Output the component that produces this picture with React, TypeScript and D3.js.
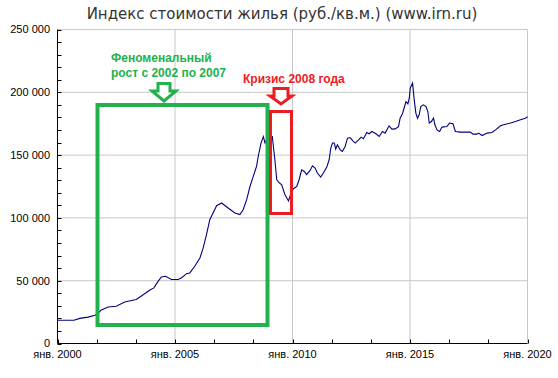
import React from "react";
import * as d3 from "d3";

const TITLE = "Индекс стоимости жилья (руб./кв.м.) (www.irn.ru)";

// decimal years
const dates: number[] = [
  2000.0, 2000.7, 2000.95, 2001.3, 2001.6, 2001.75, 2001.85, 2002.15, 2002.5, 2002.86,
  2003.2, 2003.35, 2003.6, 2003.92, 2004.1, 2004.28, 2004.42, 2004.6, 2004.85, 2005.13,
  2005.27, 2005.49, 2005.63, 2005.84, 2006.06, 2006.2, 2006.34, 2006.48, 2006.62, 2006.77,
  2006.98, 2007.26, 2007.55, 2007.76, 2007.9, 2008.05, 2008.19, 2008.33, 2008.47, 2008.54,
  2008.66, 2008.76, 2008.83, 2008.92, 2009.05, 2009.14, 2009.25, 2009.33, 2009.42, 2009.54,
  2009.68, 2009.83, 2009.96, 2010.03, 2010.18, 2010.28, 2010.39, 2010.5, 2010.6, 2010.75,
  2010.85, 2010.96, 2011.06, 2011.2, 2011.31, 2011.46, 2011.56, 2011.63, 2011.7, 2011.78,
  2011.84, 2011.91, 2012.03, 2012.12, 2012.24, 2012.34, 2012.45, 2012.57, 2012.67, 2012.81,
  2012.92, 2013.02, 2013.16, 2013.26, 2013.38, 2013.55, 2013.69, 2013.83, 2013.94, 2014.11,
  2014.23, 2014.37, 2014.51, 2014.58, 2014.68, 2014.77, 2014.83, 2014.91, 2014.97, 2015.01,
  2015.11, 2015.18, 2015.25, 2015.32, 2015.39, 2015.46, 2015.57, 2015.68, 2015.76, 2015.82,
  2015.91, 2016.0, 2016.06, 2016.15, 2016.26, 2016.36, 2016.57, 2016.68, 2016.83, 2016.93,
  2017.14, 2017.57, 2017.68, 2017.85, 2017.92, 2018.07, 2018.28, 2018.49, 2018.64, 2018.85,
  2019.06, 2019.28, 2019.49, 2019.7, 2019.91, 2020.0,
];

const values: number[] = [
  18500, 18500, 20000, 21000, 22500, 24500, 26500, 29000, 29700, 33000,
  34400, 35000, 38200, 42400, 44300, 49500, 53000, 53500, 51000, 51000,
  52200, 55600, 56200, 61500, 68100, 76100, 86700, 98600, 103900, 109700,
  111900, 107900, 103900, 102600, 106500, 114500, 125000, 133000, 141000, 148900,
  159600, 164800, 159600, 163000, 165000, 164800, 146300, 130400, 128200, 126400,
  118500, 113500, 121000, 123000, 125000, 130400, 138300, 137000, 134400, 137800,
  141500, 139700, 135700, 132500, 135700, 140500, 146300, 155600, 159600, 159600,
  154800, 158200, 154200, 152900, 156900, 163500, 164000, 161400, 159600, 162200,
  164300, 163000, 168000, 167000, 168800, 167000, 164800, 168800, 167500, 173300,
  170700, 170900, 172700, 179400, 182900, 188700, 192600, 190800, 195300, 203300,
  207300, 194000, 183400, 179400, 182100, 188700, 190000, 188700, 184700, 175500,
  176700, 179400, 174100, 170100, 168800, 172300, 172700, 175500, 174900, 168800,
  168300, 168300, 166700, 166700, 167500, 165600, 167500, 168000, 170100, 173300,
  174600, 175500, 176700, 178100, 179400, 180500,
];

const xMajorTicks: number[] = [2000, 2005, 2010, 2015, 2020];
const xTickLabels: string[] = ["янв. 2000", "янв. 2005", "янв. 2010", "янв. 2015", "янв. 2020"];
const yMajorTicks: number[] = [0, 50000, 100000, 150000, 200000, 250000];

// annotations (data coordinates)
const growthLabel: string[] = ["Феноменальный", "рост с 2002 по 2007"];
const growthBox: number[] = [2001.7, 2008.9, 15000, 190000]; // x0, x1, y0, y1
const crisisLabel = "Кризис 2008 года";
const crisisBox: number[] = [2009.05, 2009.95, 104000, 185500];

const W = 558;
const H = 378;

export default function App() {
  const x = d3.scaleLinear().domain([2000, 2020]).range([57.5, 527.5]);
  const y = d3.scaleLinear().domain([0, 250000]).range([343.5, 29.5]);

  const pts = dates.map((d, i) => [d, values[i]] as [number, number]);
  const line = d3
    .line<[number, number]>()
    .x((d) => x(d[0]))
    .y((d) => y(d[1]));

  const yMinor = d3.range(0, 250001, 10000);
  const xMinor = d3.range(0, 12 + 1).map((i) => 2000 + (i * 5) / 3);

  const fmt = (v: number) => d3.format(",")(v).replace(/,/g, " ");

  const green = "#22b14c";
  const red = "#ed1c24";

  const arrow = (cx: number, top: number, headY: number, tip: number, sw: number, hw: number) =>
    `M${cx - sw},${top} L${cx + sw},${top} L${cx + sw},${headY} L${cx + hw},${headY} L${cx},${tip} L${cx - hw},${headY} L${cx - sw},${headY} Z`;

  const gx0 = Math.round(x(growthBox[0])) + 0.5;
  const gx1 = Math.round(x(growthBox[1])) + 0.5;
  const gy0 = Math.round(y(growthBox[3]));
  const gy1 = Math.round(y(growthBox[2]));
  const cx0 = Math.round(x(crisisBox[0])) + 0.5;
  const cx1 = Math.round(x(crisisBox[1])) + 0.5;
  const cy0 = Math.round(y(crisisBox[3])) + 0.5;
  const cy1 = Math.round(y(crisisBox[2])) + 0.5;

  return (
    <svg
      width={W}
      height={H}
      style={{ position: "absolute", left: 0, top: 0, background: "#fff" }}
      fontFamily="'Liberation Sans', Arial, sans-serif"
    >
      <rect x={0} y={0} width={W} height={H} fill="#fff" />
      <text
        x={282}
        y={19}
        textAnchor="middle"
        fontFamily="'DejaVu Sans', Verdana, sans-serif"
        fontSize={15}
        fill="#333"
      >
        {TITLE}
      </text>

      {/* grid */}
      {xMajorTicks.slice(1).map((t) => (
        <line key={"gx" + t} x1={x(t)} x2={x(t)} y1={y(0)} y2={y(250000)} stroke="#c8c8c8" strokeWidth={1} />
      ))}
      {yMajorTicks.slice(1).map((t) => (
        <line key={"gy" + t} x1={x(2000)} x2={x(2020)} y1={y(t)} y2={y(t)} stroke="#c8c8c8" strokeWidth={1} />
      ))}

      {/* series */}
      <path d={line(pts) || ""} fill="none" stroke="#000080" strokeWidth={1.1} />

      {/* annotations */}
      <rect
        x={gx0}
        y={gy0}
        width={gx1 - gx0}
        height={gy1 - gy0}
        fill="none"
        stroke={green}
        strokeWidth={4}
      />
      <path d={arrow(164, 83.5, 91, 101, 6, 12)} fill="#fff" stroke={green} strokeWidth={3} strokeLinejoin="miter" />
      <text fontWeight="bold" fontSize={12} fill={green}>
        <tspan x={111} y={62}>{growthLabel[0]}</tspan>
        <tspan x={111} y={77}>{growthLabel[1]}</tspan>
      </text>

      <rect
        x={cx0}
        y={cy0}
        width={cx1 - cx0}
        height={cy1 - cy0}
        fill="none"
        stroke={red}
        strokeWidth={3}
      />
      <path d={arrow(281, 88.5, 96, 104, 7, 11)} fill="#fff" stroke={red} strokeWidth={3} strokeLinejoin="miter" />
      <text x={243} y={82.5} fontWeight="bold" fontSize={12} fill={red}>
        {crisisLabel}
      </text>

      {/* axes */}
      <line x1={x(2000)} x2={x(2000)} y1={y(250000)} y2={y(0)} stroke="#000" />
      <line x1={x(2000)} x2={x(2020)} y1={y(0)} y2={y(0)} stroke="#000" />
      {yMinor.map((t) => (
        <line key={"ym" + t} x1={x(2000)} x2={x(2000) + 4} y1={Math.round(y(t)) + 0.5} y2={Math.round(y(t)) + 0.5} stroke="#000" />
      ))}
      {xMinor.map((t, i) => (
        <line key={"xm" + i} x1={Math.round(x(t)) + 0.5} x2={Math.round(x(t)) + 0.5} y1={y(0)} y2={y(0) - 4} stroke="#000" />
      ))}
      {yMajorTicks.map((t) => (
        <text key={"yl" + t} x={50} y={y(t)} dy="0.35em" textAnchor="end" fontSize={11} fill="#000">
          {fmt(t)}
        </text>
      ))}
      {xMajorTicks.map((t, i) => (
        <text key={"xl" + t} x={x(t)} y={358} textAnchor="middle" fontSize={11} fill="#000">
          {xTickLabels[i]}
        </text>
      ))}
    </svg>
  );
}
